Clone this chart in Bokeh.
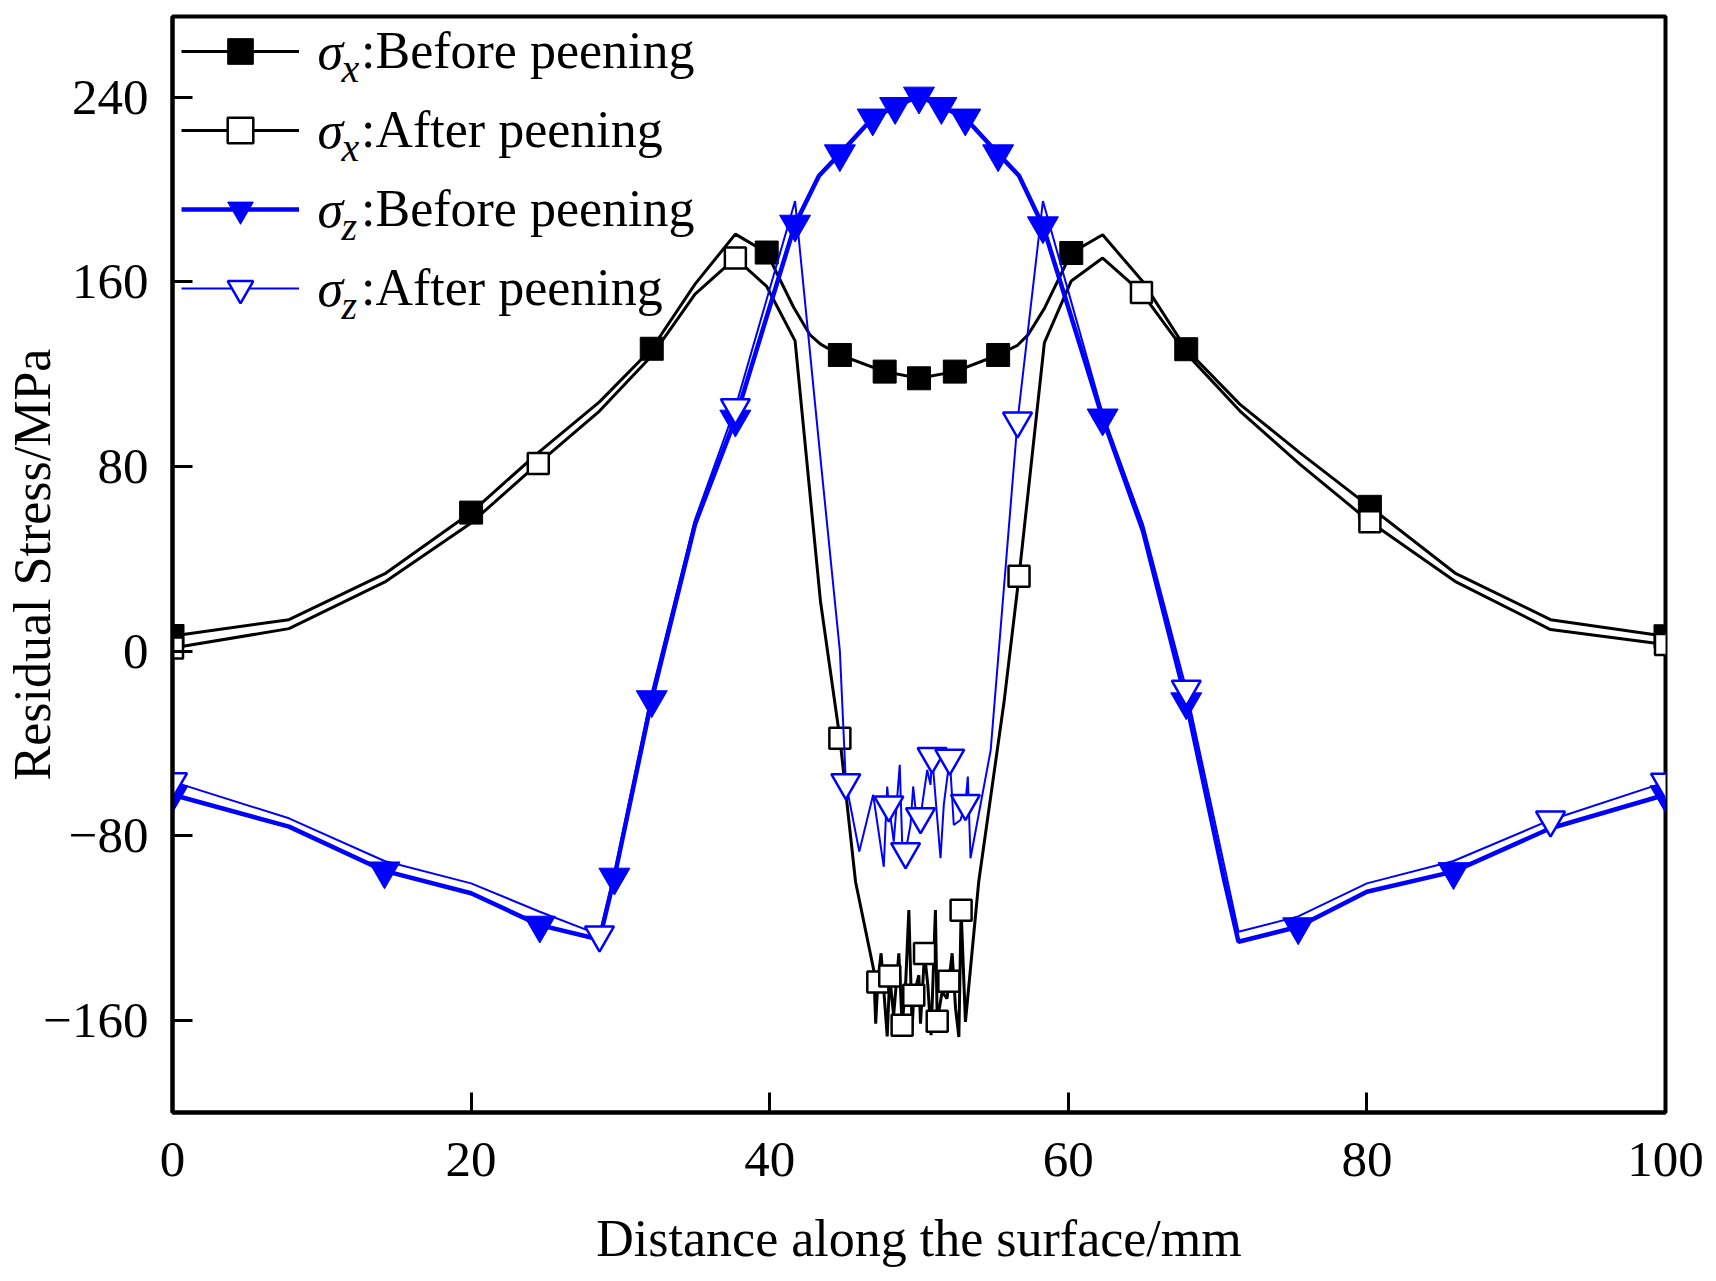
from bokeh.plotting import figure
from bokeh.models import Range1d, FixedTicker, Legend, LegendItem, Label
from bokeh.embed import file_html
from bokeh.resources import INLINE
from bokeh.core.properties import value

# ---------------- data ----------------
sx_before_x = [0, 7.8, 14.3, 20.0, 24.5, 28.6, 32.1, 35.0, 37.7, 39.8, 41.6, 42.7, 43.4, 44.7, 47.7, 50.0,
               52.4, 55.3, 56.6, 57.3, 58.4, 60.2, 62.3, 65.0, 67.9, 71.5, 75.5, 80.2, 85.9, 92.3, 100]
sx_before_y = [6.5, 13.6, 33.8, 60.0, 86.0, 108.0, 131.0, 159.0, 180.7, 172.7, 149.0, 137.0, 133.0, 128.3, 121.1,
               118.2, 121.1, 128.3, 132.5, 137.0, 148.5, 172.5, 180.4, 160.0, 130.8, 106.9, 86.0, 62.5, 33.8, 13.6, 6.4]
sx_before_marks = [0, 3, 6, 9, 13, 14, 15, 16, 17, 21, 24, 27, 30]

sx_after_x = [0, 7.8, 14.3, 20.0, 24.5, 28.6, 32.1, 35.0, 37.7, 39.8,
              41.7, 43.4, 44.7, 45.75, 46.97, 47.1, 47.24, 47.46, 47.87, 48.04,
              48.3, 48.65, 48.87, 49.1, 49.32, 49.54, 49.65, 49.99, 50.1, 50.37,
              50.59, 50.81, 51.1, 51.22, 51.55, 51.88, 52.0, 52.22, 52.45, 52.67,
              52.82, 53.11, 54.0, 55.7, 56.7, 58.4, 60.2, 62.3, 64.9, 67.9,
              71.5, 75.5, 80.2, 85.9, 92.3, 100]
sx_after_y = [1.3, 9.7, 30.2, 55.5, 81.3, 104.0, 128.0, 154.7, 170.3, 158.0,
              134.4, 21.6, -37.8, -100.0, -138.3, -161.5, -143.4, -131.0, -167.0, -140.8,
              -158.0, -131.0, -162.2, -145.0, -112.3, -163.6, -149.2, -140.5, -161.5, -131.1,
              -144.8, -166.5, -112.3, -160.4, -147.7, -150.6, -143.1, -131.0, -155.0, -167.3,
              -112.3, -160.7, -100.0, -21.9, 32.4, 133.7, 160.4, 170.3, 155.4, 129.0,
              104.0, 81.0, 56.0, 30.2, 9.3, 2.8]
sx_after_marks = [0, 4, 8, 12, 16, 19, 22, 26, 29, 33, 36, 40, 44, 48, 52, 55]

sz_before_x = [0, 7.8, 14.2, 20.0, 24.6, 28.6, 29.6, 32.1, 35.0, 37.7,
               41.7, 43.3, 44.7, 46.9, 48.4, 50.0, 51.5, 53.1, 55.3, 56.7,
               58.3, 62.3, 65.0, 67.9, 70.4, 71.4, 75.4, 80.0, 85.8, 92.3, 100]
sz_before_y = [-62.3, -76.1, -95.3, -105.0, -118.8, -125.0, -98.0, -21.1, 55.0, 100.5,
               185.0, 206.0, 215.5, 231.0, 236.0, 240.5, 236.0, 231.0, 215.5, 206.0,
               184.3, 101.0, 52.0, -22.0, -98.0, -126.0, -119.5, -104.3, -95.6, -76.8, -62.3]
sz_before_marks = [0, 2, 4, 6, 7, 9, 10, 12, 13, 14, 15, 16, 17, 18, 20, 21, 23, 26, 28, 30]

sz_after_x = [0, 7.8, 14.2, 20.0, 24.6, 28.6, 29.6, 32.1, 35.0, 37.7,
              41.7, 43.3, 44.7, 45.1, 46.0, 46.93, 47.64, 47.87, 47.98, 48.31,
              48.71, 48.87, 49.1, 49.43, 49.61, 49.88, 50.1, 50.55, 50.77, 50.88,
              51.44, 51.66, 52.06, 52.33, 52.78, 53.11, 53.27, 53.45, 54.8, 56.6,
              58.3, 62.3, 65.0, 67.9, 71.4, 75.4, 80.0, 85.8, 92.3, 100]
sz_after_y = [-56.6, -72.5, -91.0, -100.7, -113.0, -123.0, -96.0, -18.0, 57.0, 105.5,
              195.0, 90.0, 0.0, -57.0, -86.9, -62.3, -93.5, -58.7, -66.7, -82.6,
              -49.3, -82.6, -86.9, -75.4, -58.7, -75.4, -71.8, -51.5, -58.0, -45.7,
              -89.8, -66.7, -46.4, -75.4, -73.2, -66.0, -54.4, -89.8, -43.0, 99.7,
              195.0, 103.0, 55.0, -16.5, -121.7, -115.0, -100.7, -91.0, -73.2, -56.8]
sz_after_marks = [0, 5, 9, 13, 18, 22, 26, 29, 32, 35, 39, 43, 48, 49]

x_ticks = [0, 20, 40, 60, 80, 100]
y_ticks = [-160, -80, 0, 80, 160, 240]
y_tick_labels = {-160: "\u2212160", -80: "\u221280", 0: "0", 80: "80", 160: "160", 240: "240"}

legend_subs = ["x", "x", "z", "z"]
legend_texts = [":Before peening", ":After peening", ":Before peening", ":After peening"]

x_title = "Distance along the surface/mm"
y_title = "Residual Stress/MPa"

# ---------------- figure ----------------
FONT = "Liberation Serif"
FW, FH = 1493, 1096

p = figure(frame_width=FW, frame_height=FH, output_backend="svg", toolbar_location=None,
           x_range=Range1d(0, 100), y_range=Range1d(-200, 275),
           min_border_left=172, min_border_right=40, min_border_top=16, min_border_bottom=161)
p.xgrid.grid_line_color = None
p.ygrid.grid_line_color = None
p.outline_line_color = "black"
p.outline_line_width = 4
p.outline_line_alpha = 1
p.background_fill_color = "white"
p.border_fill_color = "white"

p.xaxis.ticker = FixedTicker(ticks=x_ticks)
p.yaxis.ticker = FixedTicker(ticks=y_ticks)
p.yaxis.major_label_overrides = y_tick_labels
p.xaxis.axis_label = x_title
p.yaxis.axis_label = y_title

for ax in (p.xaxis[0], p.yaxis[0]):
    ax.axis_line_width = 4
    ax.axis_line_color = "black"
    ax.major_tick_in = 20
    ax.major_tick_out = 0
    ax.major_tick_line_width = 3
    ax.minor_tick_line_color = None
    ax.major_label_text_font = FONT
    ax.major_label_text_font_size = "51px"
    ax.major_label_text_color = "black"
    ax.axis_label_text_font = FONT
    ax.axis_label_text_font_size = "52px"
    ax.axis_label_text_font_style = "normal"
    ax.axis_label_text_color = "black"

p.xaxis.major_label_standoff = 30
p.xaxis.axis_label_standoff = 31
p.yaxis.major_label_standoff = 24
p.yaxis.axis_label_standoff = -21


def pick(vals, idx):
    return [vals[i] for i in idx]


# sigma_x before
l1 = p.line(sx_before_x, sx_before_y, line_color="black", line_width=3)
m1 = p.scatter(pick(sx_before_x, sx_before_marks), pick(sx_before_y, sx_before_marks),
               marker="square", size=23, fill_color="black", line_color="black", line_width=1)
# sigma_x after
l2 = p.line(sx_after_x, sx_after_y, line_color="black", line_width=3)
m2 = p.scatter(pick(sx_after_x, sx_after_marks), pick(sx_after_y, sx_after_marks),
               marker="square", size=21, fill_color="white", line_color="black", line_width=2.5)
# sigma_z before
l3 = p.line(sz_before_x, sz_before_y, line_color="#0000ff", line_width=4.5)
m3 = p.scatter(pick(sz_before_x, sz_before_marks), pick(sz_before_y, sz_before_marks),
               marker="inverted_triangle", size=31, fill_color="#0000ff", line_color="#0000ff", line_width=1)
# sigma_z after
l4 = p.line(sz_after_x, sz_after_y, line_color="#0000ff", line_width=2)
m4 = p.scatter(pick(sz_after_x, sz_after_marks), pick(sz_after_y, sz_after_marks),
               marker="inverted_triangle", size=29, fill_color="white", line_color="#0000ff", line_width=2.5)

pairs = [(l1, m1), (l2, m2), (l3, m3), (l4, m4)]
items = [LegendItem(label=value(t), renderers=list(r)) for t, r in zip(legend_texts, pairs)]

ROW, GAP, TOP = 64, 15, 2.7
leg_h = len(items) * ROW + (len(items) - 1) * GAP
legend = Legend(items=items, location=(9, FH - TOP - leg_h), orientation="vertical",
                padding=0, margin=0, spacing=GAP, glyph_width=118, glyph_height=ROW, label_height=ROW,
                label_standoff=62, label_text_font=FONT, label_text_font_size="52px",
                label_text_color="black", border_line_alpha=0, background_fill_alpha=0)
p.add_layout(legend)

for i, sub in enumerate(legend_subs):
    yc = FH - TOP - ROW / 2 - i * (ROW + GAP)
    p.add_layout(Label(x=145, y=yc, x_units="screen", y_units="screen", text="\u03c3",
                       text_font=FONT, text_font_style="italic", text_font_size="52px",
                       text_baseline="middle", text_align="left", text_color="black"))
    p.add_layout(Label(x=169, y=yc - 17, x_units="screen", y_units="screen", text=sub,
                       text_font=FONT, text_font_style="italic", text_font_size="40px",
                       text_baseline="middle", text_align="left", text_color="black"))

open("out.html", "w").write(file_html(p, INLINE))
